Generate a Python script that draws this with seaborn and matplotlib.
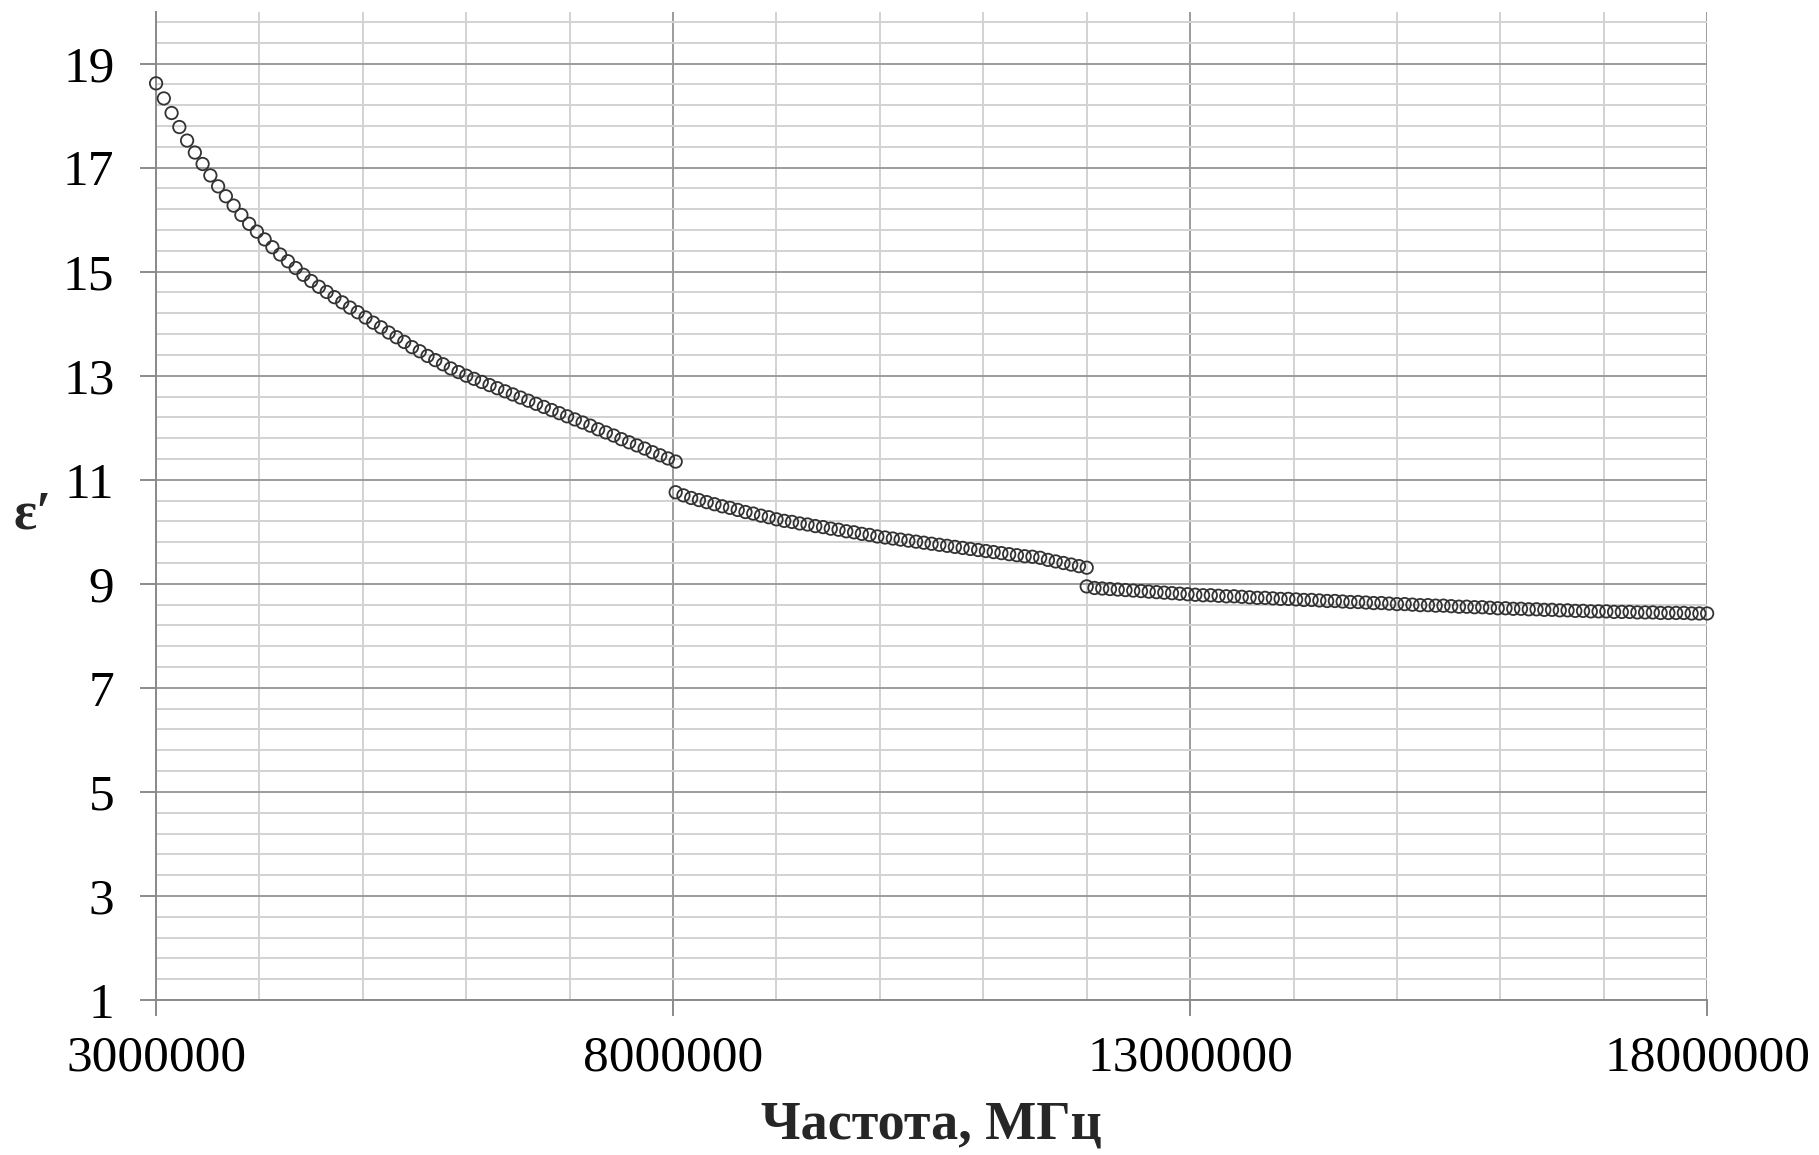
import numpy as np
import pandas as pd
import matplotlib
matplotlib.use('Agg')
import matplotlib.pyplot as plt
import seaborn as sns
from matplotlib.ticker import FixedLocator, MultipleLocator

# =============================================================
# DATA — permittivity vs frequency, three measurement bands
# frequency values are in units of 10^6 MHz
# =============================================================

freq_band1 = [
    3.000, 3.075, 3.150, 3.225, 3.300, 3.375, 3.450, 3.525, 3.600, 3.675,
    3.750, 3.825, 3.900, 3.975, 4.050, 4.125, 4.200, 4.275, 4.350, 4.425,
    4.500, 4.575, 4.650, 4.725, 4.800, 4.875, 4.950, 5.025, 5.100, 5.175,
    5.250, 5.325, 5.400, 5.475, 5.550, 5.625, 5.700, 5.775, 5.850, 5.925,
    6.000, 6.075, 6.150, 6.225, 6.300, 6.375, 6.450, 6.525, 6.600, 6.675,
    6.750, 6.825, 6.900, 6.975, 7.050, 7.125, 7.200, 7.275, 7.350, 7.425,
    7.500, 7.575, 7.650, 7.725, 7.800, 7.875, 7.950, 8.025,
]
eps_band1 = [
    18.62, 18.33, 18.05, 17.78, 17.52, 17.29, 17.07, 16.85, 16.64, 16.45,
    16.27, 16.09, 15.92, 15.77, 15.62, 15.47, 15.33, 15.20, 15.07, 14.94,
    14.82, 14.71, 14.61, 14.51, 14.41, 14.31, 14.22, 14.12, 14.02, 13.93,
    13.83, 13.74, 13.65, 13.55, 13.47, 13.38, 13.30, 13.22, 13.14, 13.07,
    13.00, 12.94, 12.88, 12.82, 12.76, 12.70, 12.64, 12.58, 12.52, 12.46,
    12.40, 12.34, 12.28, 12.22, 12.16, 12.10, 12.04, 11.97, 11.91, 11.85,
    11.78, 11.72, 11.66, 11.60, 11.53, 11.47, 11.41, 11.35,
]

freq_band2 = [
    8.025, 8.100, 8.175, 8.250, 8.325, 8.400, 8.475, 8.550, 8.625, 8.700,
    8.775, 8.850, 8.925, 9.000, 9.075, 9.150, 9.225, 9.300, 9.375, 9.450,
    9.525, 9.600, 9.675, 9.750, 9.825, 9.900, 9.975, 10.050, 10.125, 10.200,
    10.275, 10.350, 10.425, 10.500, 10.575, 10.650, 10.725, 10.800, 10.875, 10.950,
    11.025, 11.100, 11.175, 11.250, 11.325, 11.400, 11.475, 11.550, 11.625, 11.700,
    11.775, 11.850, 11.925, 12.000,
]
eps_band2 = [
    10.76, 10.70, 10.65, 10.61, 10.57, 10.53, 10.49, 10.46, 10.42, 10.38,
    10.35, 10.31, 10.28, 10.24, 10.21, 10.19, 10.16, 10.14, 10.11, 10.09,
    10.06, 10.04, 10.01, 9.99, 9.96, 9.94, 9.91, 9.89, 9.87, 9.85,
    9.83, 9.81, 9.79, 9.77, 9.75, 9.73, 9.71, 9.69, 9.67, 9.65,
    9.63, 9.61, 9.59, 9.57, 9.55, 9.53, 9.52, 9.50, 9.46, 9.43,
    9.40, 9.37, 9.34, 9.31,
]

freq_band3 = [
    12.000, 12.075, 12.150, 12.225, 12.300, 12.375, 12.450, 12.525, 12.600, 12.675,
    12.750, 12.825, 12.900, 12.975, 13.050, 13.125, 13.200, 13.275, 13.350, 13.425,
    13.500, 13.575, 13.650, 13.725, 13.800, 13.875, 13.950, 14.025, 14.100, 14.175,
    14.250, 14.325, 14.400, 14.475, 14.550, 14.625, 14.700, 14.775, 14.850, 14.925,
    15.000, 15.075, 15.150, 15.225, 15.300, 15.375, 15.450, 15.525, 15.600, 15.675,
    15.750, 15.825, 15.900, 15.975, 16.050, 16.125, 16.200, 16.275, 16.350, 16.425,
    16.500, 16.575, 16.650, 16.725, 16.800, 16.875, 16.950, 17.025, 17.100, 17.175,
    17.250, 17.325, 17.400, 17.475, 17.550, 17.625, 17.700, 17.775, 17.850, 17.925,
    18.000,
]
eps_band3 = [
    8.95, 8.92, 8.91, 8.90, 8.89, 8.88, 8.87, 8.86, 8.85, 8.84,
    8.83, 8.82, 8.81, 8.80, 8.79, 8.78, 8.78, 8.77, 8.76, 8.76,
    8.75, 8.74, 8.73, 8.73, 8.72, 8.71, 8.71, 8.70, 8.69, 8.69,
    8.68, 8.67, 8.67, 8.66, 8.65, 8.65, 8.64, 8.63, 8.63, 8.62,
    8.61, 8.61, 8.60, 8.59, 8.59, 8.58, 8.58, 8.57, 8.56, 8.56,
    8.55, 8.55, 8.54, 8.53, 8.53, 8.52, 8.52, 8.51, 8.51, 8.50,
    8.50, 8.49, 8.49, 8.48, 8.48, 8.47, 8.47, 8.47, 8.46, 8.46,
    8.46, 8.45, 8.45, 8.45, 8.44, 8.44, 8.44, 8.44, 8.43, 8.43,
    8.43,
]

x_ticks = [3000000, 8000000, 13000000, 18000000]
y_ticks = [1, 3, 5, 7, 9, 11, 13, 15, 17, 19]

df = pd.concat([
    pd.DataFrame({'freq': freq_band1, 'eps': eps_band1}),
    pd.DataFrame({'freq': freq_band2, 'eps': eps_band2}),
    pd.DataFrame({'freq': freq_band3, 'eps': eps_band3}),
], ignore_index=True)
df['freq'] = df['freq'] * 1e6

# =============================================================
# PLOT
# =============================================================

sns.set_theme(style='white')
plt.rcParams['font.family'] = ['Liberation Serif', 'DejaVu Serif']

fig = plt.figure(figsize=(18.19, 11.55), dpi=100)
ax = fig.add_axes([0.0858, 0.1342, 0.8527, 0.8558])

sns.scatterplot(data=df, x='freq', y='eps', marker='o', s=80,
                facecolors='none', edgecolor='#333333', linewidth=1.3,
                clip_on=False, zorder=3, legend=False, ax=ax)

ax.set_xlim(3e6, 18e6)
ax.set_ylim(1, 20)

# minor grid every 0.4 starting from the bottom of the axis (1.4, 1.8, ...)
y_minor = [round(1 + 0.4 * i, 1) for i in range(1, 48)]

ax.xaxis.set_major_locator(FixedLocator(x_ticks))
ax.xaxis.set_minor_locator(MultipleLocator(1e6))
ax.set_xticklabels([str(v) for v in x_ticks])
ax.yaxis.set_major_locator(FixedLocator(y_ticks))
ax.yaxis.set_minor_locator(FixedLocator(y_minor))
ax.set_yticklabels([str(v) for v in y_ticks])

ax.set_axisbelow(True)
ax.grid(which='major', color='#9c9c9c', linewidth=1.4)
ax.grid(which='minor', color='#d2d2d2', linewidth=1.4)

ax.tick_params(which='major', bottom=True, left=True, direction='out',
               length=11.5, width=1.4, color='#8a8a8a', labelsize=37,
               labelcolor='black')
ax.tick_params(axis='x', which='major', pad=14)
ax.tick_params(axis='y', which='major', pad=18.5)
ax.tick_params(which='minor', length=0)

for side in ['top', 'right']:
    ax.spines[side].set_visible(False)
for side in ['left', 'bottom']:
    ax.spines[side].set_color('#8a8a8a')
    ax.spines[side].set_linewidth(1.4)

ax.set_xlabel('Частота, МГц', fontsize=39, fontweight='bold', va='center')
ax.xaxis.set_label_coords(0.5, -0.127)
ax.set_ylabel('ε′', fontsize=39, fontweight='bold', rotation=0,
              ha='center', va='center')
ax.yaxis.set_label_coords(-0.0793, 0.49)

fig.savefig('out.png', dpi=100)
